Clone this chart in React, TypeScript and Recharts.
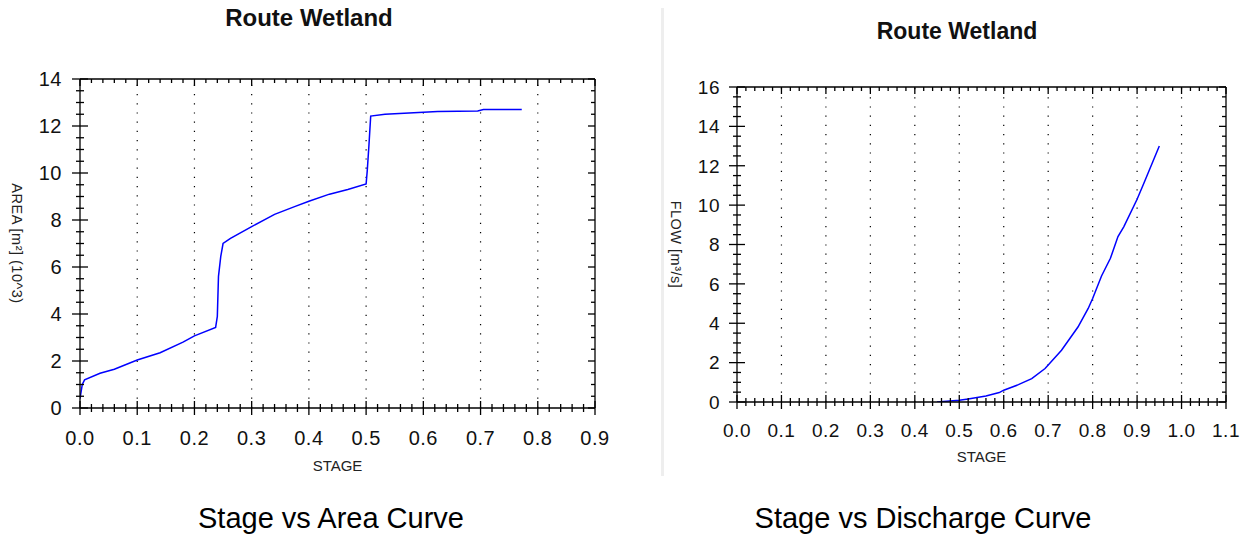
import React from 'react';
import { LineChart, Line, XAxis, YAxis, ReferenceLine } from 'recharts';

const FONT = '"Liberation Sans", Arial, sans-serif';
const BLUE = '#0000ff';

// Stage vs Area (area in 10^3 m²)
const AREA_STAGE = [
  0.0, 0.004, 0.008, 0.035, 0.06, 0.1, 0.14, 0.18, 0.2, 0.237,
  0.24, 0.242, 0.246, 0.25, 0.263, 0.3, 0.34, 0.375, 0.4, 0.436,
  0.468, 0.5, 0.502, 0.505, 0.508, 0.533, 0.575, 0.625, 0.695, 0.705, 0.772,
];
const AREA_VALUES = [
  0.4, 1.0, 1.2, 1.48, 1.65, 2.04, 2.35, 2.8, 3.07, 3.43,
  3.9, 5.6, 6.45, 7.0, 7.22, 7.72, 8.24, 8.57, 8.8, 9.1,
  9.3, 9.53, 10.1, 11.2, 12.42, 12.5, 12.55, 12.62, 12.64, 12.7, 12.7,
];

// Stage vs Discharge (flow in m³/s)
const FLOW_STAGE = [
  0.45, 0.5, 0.52, 0.56, 0.59, 0.6, 0.633, 0.663, 0.693, 0.73,
  0.767, 0.79, 0.8, 0.82, 0.84, 0.857, 0.87, 0.9, 0.915, 0.95,
];
const FLOW_VALUES = [
  0.0, 0.09, 0.15, 0.31, 0.48, 0.6, 0.88, 1.19, 1.7, 2.63,
  3.81, 4.75, 5.26, 6.4, 7.3, 8.4, 8.9, 10.3, 11.1, 13.0,
];

// major tick labels
const AREA_X_TICKS = [0, 0.1, 0.2, 0.3, 0.4, 0.5, 0.6, 0.7, 0.8, 0.9];
const AREA_Y_TICKS = [0, 2, 4, 6, 8, 10, 12, 14];
const FLOW_X_TICKS = [0, 0.1, 0.2, 0.3, 0.4, 0.5, 0.6, 0.7, 0.8, 0.9, 1.0, 1.1];
const FLOW_Y_TICKS = [0, 2, 4, 6, 8, 10, 12, 14, 16];

const areaData = AREA_STAGE.map((s, i) => ({ stage: s, area: AREA_VALUES[i] }));
const flowData = FLOW_STAGE.map((s, i) => ({ stage: s, flow: FLOW_VALUES[i] }));

// add minor ticks between the majors
const withMinor = (major: number[], parts: number) => {
  const out: number[] = [];
  major.forEach((m, i) => {
    out.push(m);
    if (i < major.length - 1) {
      const step = (major[i + 1] - m) / parts;
      for (let k = 1; k < parts; k++) out.push(m + k * step);
    }
  });
  return out;
};

const isMajor = (v: number, majors: number[]) => majors.some((m) => Math.abs(m - v) < 1e-6);

const AX = { stroke: '#000', strokeWidth: 1.3 };

const BottomTick = ({ x, y, payload, majors, fontSize, dy }: any) => {
  const major = isMajor(payload.value, majors);
  const len = major ? 7 : 4;
  return (
    <g>
      <line x1={x} y1={y - len} x2={x} y2={y + len} {...AX} />
      {major && (
        <text x={x} y={y + dy} textAnchor="middle" fontSize={fontSize} fill="#111" fontFamily={FONT} letterSpacing={0.5}>
          {payload.value.toFixed(1)}
        </text>
      )}
    </g>
  );
};

const TopTick = ({ x, y, payload, majors }: any) => {
  const len = isMajor(payload.value, majors) ? 7 : 4;
  return <line x1={x} y1={y} x2={x} y2={y + len} {...AX} />;
};

const LeftTick = ({ x, y, payload, majors, fontSize, dx }: any) => {
  const major = isMajor(payload.value, majors);
  const len = major ? 8 : 4;
  return (
    <g>
      <line x1={x - len} y1={y} x2={x + len} y2={y} {...AX} />
      {major && (
        <text x={x - dx} y={y + fontSize * 0.36} textAnchor="end" fontSize={fontSize} fill="#111" fontFamily={FONT} letterSpacing={0.5}>
          {payload.value}
        </text>
      )}
    </g>
  );
};

const RightTick = ({ x, y, payload, majors }: any) => {
  const len = isMajor(payload.value, majors) ? 7 : 4;
  return <line x1={x - len} y1={y} x2={x} y2={y} {...AX} />;
};

const VerticalTitle = ({ viewBox, text, dx }: any) => {
  const cx = viewBox.x + viewBox.width - dx;
  const cy = viewBox.y + viewBox.height / 2;
  return (
    <text x={cx} y={cy} transform={`rotate(90 ${cx} ${cy})`} textAnchor="middle" dominantBaseline="central"
      fontSize={14.5} fill="#222" fontFamily={FONT} letterSpacing={0.5}>
      {text}
    </text>
  );
};

const BottomTitle = ({ viewBox, text, dy }: any) => (
  <text x={viewBox.x + viewBox.width / 2} y={viewBox.y + dy} textAnchor="middle" fontSize={15} fill="#222" fontFamily={FONT}>
    {text}
  </text>
);

type PanelProps = {
  data: any[];
  dataKey: string;
  xTicks: number[];
  yTicks: number[];
  width: number;
  height: number;
  margin: { top: number; right: number; bottom: number; left: number };
  yTitle: string;
  fontSize: number;
  xLabelDy: number;
  yLabelDx: number;
  xTitleDy: number;
  yTitleDx: number;
};

const Panel = (p: PanelProps) => {
  const xAll = withMinor(p.xTicks, 5);
  const yAll = withMinor(p.yTicks, 4);
  const xDomain = [p.xTicks[0], p.xTicks[p.xTicks.length - 1]];
  const yDomain = [p.yTicks[0], p.yTicks[p.yTicks.length - 1]];
  const grid = p.xTicks.slice(1, -1);
  return (
    <LineChart width={p.width} height={p.height} data={p.data} margin={p.margin}>
      <XAxis
        dataKey="stage" type="number" domain={xDomain} allowDataOverflow ticks={xAll} interval={0}
        height={1} tickSize={0} tickMargin={0} axisLine={AX} tickLine={false}
        tick={(t: any) => <BottomTick {...t} majors={p.xTicks} fontSize={p.fontSize} dy={p.xLabelDy} />}
        label={<BottomTitle text="STAGE" dy={p.xTitleDy} />}
      />
      <XAxis
        xAxisId="top" orientation="top" dataKey="stage" type="number" domain={xDomain} allowDataOverflow ticks={xAll} interval={0}
        height={1} tickSize={0} tickMargin={0} axisLine={AX} tickLine={false}
        tick={(t: any) => <TopTick {...t} majors={p.xTicks} />}
      />
      <YAxis
        type="number" domain={yDomain} allowDataOverflow ticks={yAll} interval={0}
        width={1} tickSize={0} tickMargin={0} axisLine={AX} tickLine={false}
        tick={(t: any) => <LeftTick {...t} majors={p.yTicks} fontSize={p.fontSize} dx={p.yLabelDx} />}
        label={<VerticalTitle text={p.yTitle} dx={p.yTitleDx} />}
      />
      <YAxis
        yAxisId="right" orientation="right" type="number" domain={yDomain} allowDataOverflow ticks={yAll} interval={0}
        width={1} tickSize={0} tickMargin={0} axisLine={AX} tickLine={false}
        tick={(t: any) => <RightTick {...t} majors={p.yTicks} />}
      />
      {grid.map((g) => (
        <ReferenceLine key={g} x={g} stroke="#000" strokeWidth={1.2} strokeDasharray="1.2 8" />
      ))}
      {/* invisible copy so the frame axes get their scales */}
      <Line
        xAxisId="top" yAxisId="right" type="linear" dataKey={p.dataKey} stroke="none" dot={false}
        activeDot={false} legendType="none" isAnimationActive={false}
      />
      <Line
        type="linear" dataKey={p.dataKey} stroke={BLUE} strokeWidth={1.5} dot={false}
        isAnimationActive={false}
      />
    </LineChart>
  );
};

export default function App() {
  return (
    <div style={{ position: 'absolute', left: 0, top: 0, width: 1243, height: 535, background: '#fff', fontFamily: FONT }}>
      <svg width={1243} height={535} style={{ position: 'absolute', left: 0, top: 0 }}>
        <rect x={661} y={8} width={3} height={468} fill="#eeeeee" />
        <text x={309} y={26} textAnchor="middle" fontSize={24} fontWeight="bold" fill="#111" fontFamily={FONT}>Route Wetland</text>
        <text x={957} y={39} textAnchor="middle" fontSize={23} fontWeight="bold" fill="#111" fontFamily={FONT}>Route Wetland</text>
        <text x={331} y={528} textAnchor="middle" fontSize={29} fill="#000" fontFamily={FONT}>Stage vs Area Curve</text>
        <text x={923} y={528} textAnchor="middle" fontSize={29} fill="#000" fontFamily={FONT}>Stage vs Discharge Curve</text>
      </svg>
      <div style={{ position: 'absolute', left: 0, top: 0 }}>
        <Panel
          data={areaData} dataKey="area" xTicks={AREA_X_TICKS} yTicks={AREA_Y_TICKS}
          width={620} height={480} margin={{ top: 78, right: 24, bottom: 71, left: 79 }}
          yTitle="AREA [m²] (10^3)" fontSize={20} xLabelDy={37} yLabelDx={18} xTitleDy={63} yTitleDx={63}
        />
      </div>
      <div style={{ position: 'absolute', left: 660, top: 0 }}>
        <Panel
          data={flowData} dataKey="flow" xTicks={FLOW_X_TICKS} yTicks={FLOW_Y_TICKS}
          width={583} height={480} margin={{ top: 86, right: 16, bottom: 77, left: 76 }}
          yTitle="FLOW [m³/s]" fontSize={19} xLabelDy={35} yLabelDx={17} xTitleDy={60} yTitleDx={61}
        />
      </div>
    </div>
  );
}
